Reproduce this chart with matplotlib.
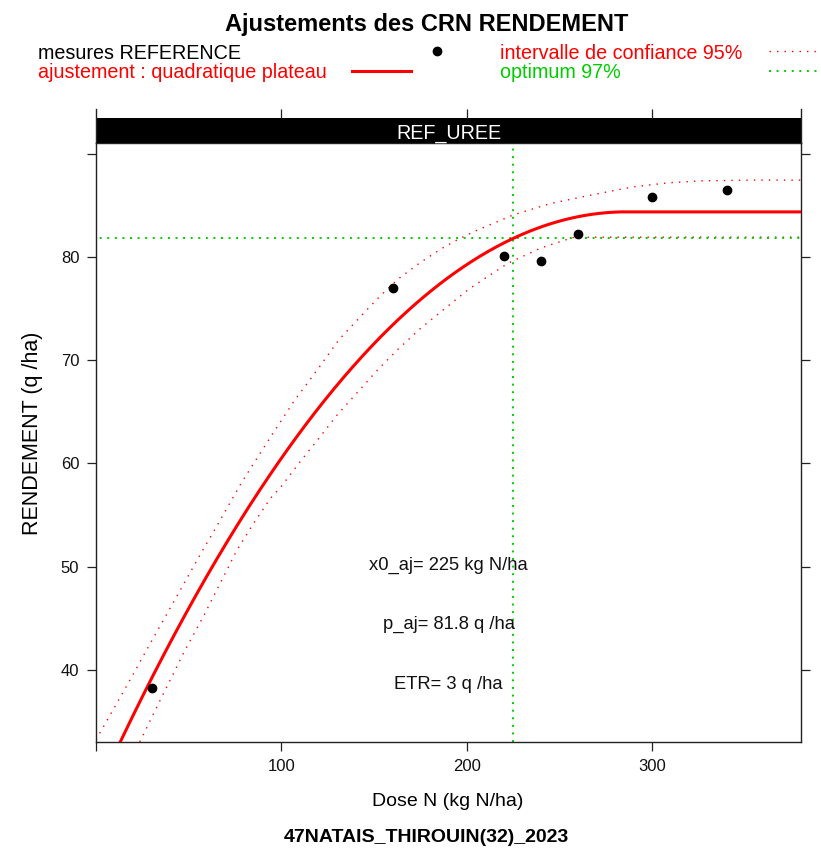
import numpy as np
import matplotlib
matplotlib.use("Agg")
import matplotlib.pyplot as plt
from matplotlib.lines import Line2D
from matplotlib.patches import Rectangle

plt.rcParams['font.family'] = ['Liberation Sans', 'DejaVu Sans']

# ---------------- data ----------------
dose = [30, 160, 220, 240, 260, 300, 340]
rendement = [38.2, 77.0, 80.1, 79.6, 82.2, 85.8, 86.5]

# quadratic-plateau fit (y = a + b x + c x^2 up to the plateau)
fit_a, fit_b, fit_c = 27.95, 0.3947, -0.00069
plateau = 84.39
x0_aj = 225          # optimum dose (97 % of plateau)
opt_frac = 0.97

# 95 % confidence interval
ci_up_x = [0, 12, 18, 26, 36, 46, 56, 66, 78, 85, 96, 107, 119, 131, 145, 153,
           163, 175, 186, 195, 204, 225, 245, 269, 289, 308, 326, 353, 380]
ci_up_y = [33.2, 37.0, 38.9, 41.5, 44.7, 47.9, 51.1, 54.2, 58.0, 60.0, 63.1, 66.1,
           69.0, 72.0, 74.7, 76.2, 77.9, 79.5, 80.8, 81.7, 82.5, 84.1, 85.2, 86.1,
           86.8, 87.2, 87.4, 87.47, 87.47]
ci_lo_x = [20, 25, 32, 40, 48, 58, 67, 76, 85, 94, 100, 110, 120, 130, 141, 152,
           163, 175, 188, 201, 222, 240, 257, 268, 380]
ci_lo_y = [31.7, 33.5, 36.1, 39.0, 41.9, 45.2, 48.4, 51.6, 54.2, 56.6, 57.8, 60.15,
           62.4, 64.7, 66.9, 69.1, 71.1, 73.1, 75.0, 76.9, 79.4, 80.9, 81.9, 81.94, 81.94]

x_ticks = [0, 100, 200, 300]
x_ticklabels = ['', '100', '200', '300']
y_ticks = [40, 50, 60, 70, 80, 90]
y_ticklabels = ['40', '50', '60', '70', '80', '']
xlim = (0.35, 380.1)
ylim = (32.99, 91.07)

title = "Ajustements des CRN RENDEMENT"
strip_label = "REF_UREE"
xlab = "Dose N (kg N/ha)"
ylab = "RENDEMENT (q /ha)"
sub = "47NATAIS_THIROUIN(32)_2023"
leg_left = ["mesures REFERENCE", "ajustement : quadratique plateau"]
leg_right = ["intervalle de confiance 95%", "optimum 97%"]
p_aj = 81.8
etr = 3

RED = '#FF0000'
GREEN = '#00CD00'
CI_STYLE = (0, (1, 4.4))
OPT_STYLE = (0, (1, 2.9))

# ---------------- figure ----------------
W, H = 821, 848
fig = plt.figure(figsize=(W / 100, H / 100), dpi=100)


def fx(px):
    return px / W


def fy(py):
    return 1 - py / H


ax = fig.add_axes([fx(96), fy(742), fx(801) - fx(96), fy(143) - fy(742)])
ax.set_xlim(*xlim)
ax.set_ylim(*ylim)

# fitted curve
xs = np.linspace(xlim[0], xlim[1], 600)
x_join = -fit_b / (2 * fit_c)
ys = np.where(xs < x_join, fit_a + fit_b * xs + fit_c * xs ** 2, plateau)
ax.plot(xs, ys, color=RED, lw=2.2, zorder=3)

# confidence interval
ax.plot(ci_up_x, ci_up_y, color=RED, lw=1.0, linestyle=CI_STYLE, zorder=2)
ax.plot(ci_lo_x, ci_lo_y, color=RED, lw=1.0, linestyle=CI_STYLE, zorder=2)

# optimum lines
y_opt = opt_frac * plateau
ax.axhline(y_opt, color=GREEN, lw=1.4, linestyle=(2, (1, 2.9)), zorder=2)
ax.axvline(x0_aj, color=GREEN, lw=1.4, linestyle=OPT_STYLE, zorder=2)

# measurements
ax.plot(dose, rendement, 'o', color='black', markersize=6, zorder=4)

# annotations
tr = ax.get_yaxis_transform()
ax.text(0.5, 49.73, f"x0_aj= {x0_aj} kg N/ha", transform=tr, ha='center',
        va='baseline', fontsize=13.2, color='#111111')
ax.text(0.5, 43.92, f"p_aj= {p_aj} q /ha", transform=tr, ha='center',
        va='baseline', fontsize=13.2, color='#111111')
ax.text(0.5, 38.10, f"ETR= {etr} q /ha", transform=tr, ha='center',
        va='baseline', fontsize=13.2, color='#111111')

# axes styling
for s in ax.spines.values():
    s.set_linewidth(1.0)
    s.set_color('#222222')
ax.set_xticks(x_ticks)
ax.set_xticklabels(x_ticklabels)
ax.set_yticks(y_ticks)
ax.set_yticklabels(y_ticklabels)
ax.tick_params(axis='both', direction='out', length=6.5, width=0.9,
               color='#222222', labelsize=12, pad=5.5, labelcolor='#111111')
ax.tick_params(axis='y', right=True, labelright=False)

# strip
axs = fig.add_axes([fx(96), fy(143), fx(801) - fx(96), fy(109) - fy(143)])
axs.set_xlim(*xlim)
axs.set_ylim(0, 1)
axs.add_patch(Rectangle((0, 0), 1, 25 / 34, transform=axs.transAxes,
                        facecolor='black', edgecolor='none'))
axs.spines['top'].set_visible(False)
axs.spines['bottom'].set_visible(False)
for k in ('left', 'right'):
    axs.spines[k].set_linewidth(1.0)
    axs.spines[k].set_color('#222222')
axs.set_yticks([])
axs.set_xticks(x_ticks[1:])
axs.tick_params(axis='x', bottom=False, top=True, labelbottom=False,
                direction='in', length=6.5, width=0.9, color='#222222')
axs.text(0.5, (143 - 138.3) / 34, strip_label, transform=axs.transAxes,
         ha='center', va='baseline', color='white', fontsize=14.2)

# titles / labels
fig.text(fx(427), fy(30.7), title, ha='center', va='baseline',
         fontsize=17, fontweight='bold')
fig.text(fx(448), fy(806.5), xlab, ha='center', va='baseline', fontsize=14)
fig.text(fx(426), fy(841.5), sub, ha='center', va='baseline', fontsize=14,
         fontweight='bold')
fig.text(fx(32.5), fy(433), ylab, ha='center', va='center', rotation=90,
         fontsize=15.5)

# legend
fig.text(fx(38), fy(59.3), leg_left[0], ha='left', va='baseline',
         fontsize=14.2, color='black')
fig.text(fx(38), fy(78.3), leg_left[1], ha='left', va='baseline',
         fontsize=14.2, color=RED)
fig.text(fx(500), fy(59.3), leg_right[0], ha='left', va='baseline',
         fontsize=14.2, color=RED)
fig.text(fx(500), fy(78.3), leg_right[1], ha='left', va='baseline',
         fontsize=14.2, color=GREEN)
fig.add_artist(Line2D([fx(437)], [fy(51)], marker='o', color='black',
                      markersize=6, transform=fig.transFigure))
fig.add_artist(Line2D([fx(352), fx(411)], [fy(71), fy(71)], color=RED, lw=2.2,
                      transform=fig.transFigure))
fig.add_artist(Line2D([fx(769), fx(821)], [fy(51), fy(51)], color=RED, lw=1.0,
                      linestyle=CI_STYLE, transform=fig.transFigure))
fig.add_artist(Line2D([fx(769), fx(821)], [fy(71), fy(71)], color=GREEN, lw=1.4,
                      linestyle=OPT_STYLE, transform=fig.transFigure))

fig.savefig("out.png", dpi=100)
